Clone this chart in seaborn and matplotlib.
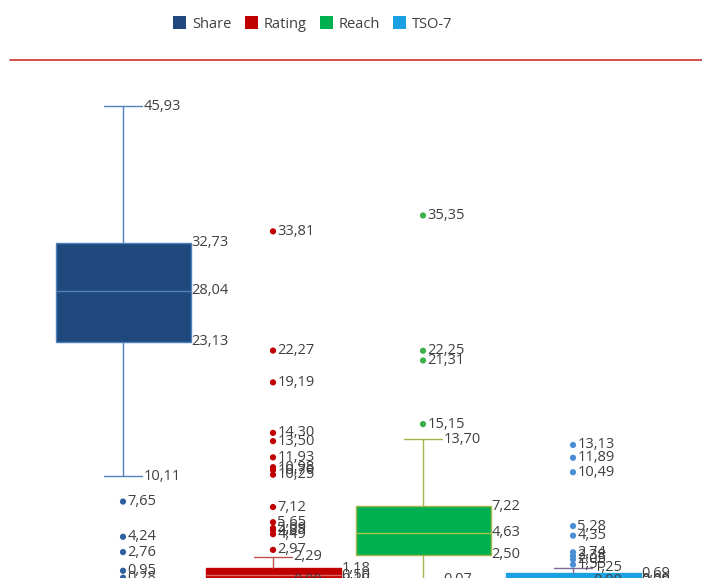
import numpy as np
import pandas as pd
import matplotlib
matplotlib.use("Agg")
import matplotlib.pyplot as plt
from matplotlib.patches import Patch
from matplotlib.lines import Line2D
import seaborn as sns

# ── 1. Data ──
categories = ["Share", "Rating", "Reach", "TSO-7"]
whis_lo = [10.11, 0.00, 0.07, 0.00]
q1 = [23.13, 0.10, 2.50, 0.00]
median = [28.04, 0.50, 4.63, 0.09]
q3 = [32.73, 1.18, 7.22, 0.69]
whis_hi = [45.93, 2.29, 13.70, 1.25]

share_outliers = [7.65, 4.24, 2.76, 0.95, 0.28]
rating_outliers = [33.81, 22.27, 19.19, 14.30, 13.50, 11.93, 10.98, 10.70,
                   10.25, 7.12, 5.65, 5.09, 4.85, 4.49, 2.97]
reach_outliers = [35.35, 22.25, 21.31, 15.15]
tso_outliers = [13.13, 11.89, 10.49, 5.28, 4.35, 2.74, 2.38, 2.05, 1.55]

# ── 2. Colours ──
box_colors = ["#1f497d", "#c00000", "#00b050", "#1ba1e2"]
edge_colors = ["#4f81bd", "#c00000", "#a6b34a", "#1ba1e2"]
line_colors = ["#4f81bd", "#c0504d", "#a6b34a", "#7a6a9a"]
median_colors = ["#4f81bd", "#e06666", "#a6c84a", "#7fc6ee"]
dot_colors = ["#2f5f9e", "#c00000", "#3cb04a", "#4a8fd6"]
text_color = "#404040"

outliers = [share_outliers, rating_outliers, reach_outliers, tso_outliers]
df_out = pd.DataFrame({
    "category": np.repeat(categories, [len(o) for o in outliers]),
    "value": np.concatenate(outliers),
})
df_out["x"] = df_out["category"].map({c: i for i, c in enumerate(categories)})

# ── 3. Figure ──
sns.set_theme(style="white")
plt.rcParams["font.family"] = ["Open Sans", "DejaVu Sans"]

W, H = 702, 578
fig = plt.figure(figsize=(W / 100, H / 100), dpi=100)
ax = fig.add_axes([48 / W, 0, 600 / W, 518 / H])

stats = []
for i, c in enumerate(categories):
    stats.append(dict(label=c, whislo=whis_lo[i], q1=q1[i], med=median[i],
                      q3=q3[i], whishi=whis_hi[i], fliers=[]))

BOX_W = 0.9
CAP_HALF = 0.125
for i, st in enumerate(stats):
    ax.bxp([st], positions=[i], widths=BOX_W, patch_artist=True,
           showfliers=False, manage_ticks=False,
           boxprops=dict(facecolor=box_colors[i], edgecolor=edge_colors[i], linewidth=1),
           whiskerprops=dict(color=line_colors[i], linewidth=1),
           capprops=dict(color=line_colors[i], linewidth=1),
           medianprops=dict(color=median_colors[i], linewidth=1),
           capwidths=CAP_HALF * 2)

sns.scatterplot(data=df_out, x="x", y="value", hue="category",
                palette=dict(zip(categories, dot_colors)), s=20,
                edgecolor="none", legend=False, ax=ax, zorder=3)

# ── 4. Value labels ──
def fmt(v):
    return f"{v:.2f}".replace(".", ",")

lab_kw = dict(fontsize=10.5, color=text_color, va="center", ha="left",
              clip_on=False, zorder=5)
for i in range(len(categories)):
    xr = i + BOX_W / 2 + 0.005
    for v in (q3[i], median[i], q1[i]):
        ax.text(xr, v, fmt(v), **lab_kw)
    for v in (whis_hi[i], whis_lo[i]):
        ax.text(i + CAP_HALF + 0.01, v, fmt(v), **lab_kw)
for _, r in df_out.iterrows():
    ax.text(r["x"] + 0.03, r["value"], fmt(r["value"]), **lab_kw)

ax.set_xlim(-0.5, 3.5)
ax.set_ylim(0.25, 50.4)
ax.set_xlabel("")
ax.set_ylabel("")
ax.set_xticks([])
ax.set_yticks([])
sns.despine(ax=ax, left=True, bottom=True)

# ── 5. Legend and separator ──
handles = [Patch(facecolor=c, edgecolor="none") for c in box_colors]
fig.legend(handles, categories, loc="center", bbox_to_anchor=(313 / W, 1 - 24 / H),
           ncol=4, frameon=False, handlelength=0.9, handleheight=0.9,
           handletextpad=0.4, columnspacing=0.9, fontsize=10.5,
           labelcolor=text_color)
fig.add_artist(Line2D([10 / W, 1], [1 - 60 / H, 1 - 60 / H],
                      transform=fig.transFigure, color="#c9302c", linewidth=1.2))

fig.savefig("out.png", dpi=100)
